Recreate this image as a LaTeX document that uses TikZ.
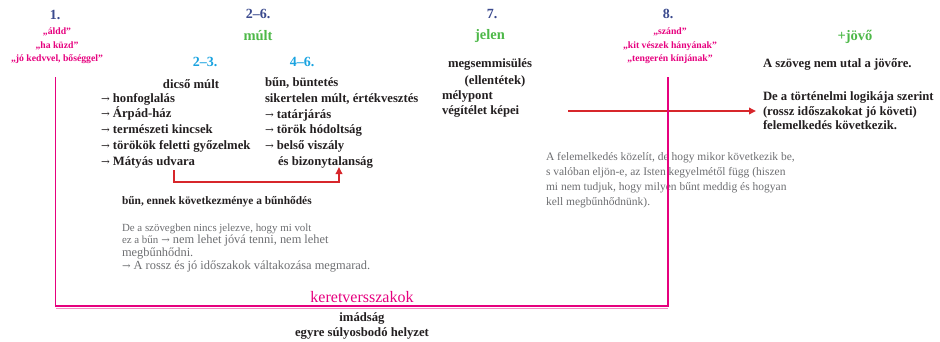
\documentclass[tikz,border=0pt]{standalone}
\usepackage{fontspec}
\setmainfont{Liberation Serif}
\newfontfamily\arrowfont[Scale=0.82]{DejaVu Serif}
\newcommand\arr{{\arrowfont\mdseries →}}
\usetikzlibrary{arrows.meta}
\definecolor{numblue}{HTML}{3B4A8E}
\definecolor{timegreen}{HTML}{4DB848}
\definecolor{subcyan}{HTML}{1AA3E0}
\definecolor{quotepink}{HTML}{E6007E}
\definecolor{arrowred}{HTML}{D7262B}
\definecolor{bodyblack}{HTML}{231F20}
\definecolor{notegray}{HTML}{6D6E71}
\begin{document}
\begin{tikzpicture}[x=1pt,y=-1pt,
  every node/.style={inner sep=0pt, outer sep=0pt},
  num/.style={font=\fontsize{14}{14}\selectfont\bfseries, text=numblue},
  period/.style={font=\fontsize{14.5}{14.5}\selectfont\bfseries, text=timegreen},
  sub/.style={font=\fontsize{14}{14}\selectfont\bfseries, text=subcyan},
  quote/.style={font=\fontsize{9.7}{13.5}\selectfont\bfseries, text=quotepink, align=center},
  body/.style={font=\fontsize{12.7}{15.7}\selectfont\bfseries, text=bodyblack, align=left, anchor=west},
  small/.style={font=\fontsize{11.4}{12}\selectfont\bfseries, text=bodyblack, anchor=west},
  note/.style={font=\fontsize{11.5}{15.2}\selectfont, text=notegray, align=left, anchor=west},
  notebig/.style={font=\fontsize{12.4}{12.5}\selectfont, text=notegray, anchor=base west},
  notesmall/.style={font=\fontsize{10.9}{12.5}\selectfont, text=notegray, anchor=base west},
  redarrow/.style={draw=arrowred, line width=1.8pt, -{Triangle[length=7pt,width=6.5pt]}},
  frame/.style={draw=quotepink, line width=1.3pt}
]
\useasboundingbox (0,0) rectangle (940,341);

% numbers
\node[num] (n1) at (55,15) {1.};
\node[num] (n26) at (258,14) {2–6.};
\node[num] (n7) at (492,14) {7.};
\node[num] (n8) at (668,14) {8.};

% periods
\node[period] (mult) at (258,36) {múlt};
\node[period] (jelen) at (490,36) {jelen};
\node[period] (jovo) at (855,37) {+jövő};

% quotes
\node[quote] (q1) at (57,46) {„áldd”\\„ha küzd”\\„jó kedvvel, bőséggel”};
\node[quote] (q8) at (670,46) {„szánd”\\„kit vészek hányának”\\„tengerén kínjának”};

% sub numbers
\node[sub] (n23) at (205,62) {2–3.};
\node[sub] (n46) at (302,62) {4–6.};

% left column
\node[body, anchor=center] (dicso) at (191,84) {dicső múlt};
\node[body] (leftlist) at (101,130.5) {\arr\ honfoglalás\\\arr\ Árpád-ház\\\arr\ természeti kincsek\\\arr\ törökök feletti győzelmek\\\arr\ Mátyás udvara};
\node[body] (rightlist) at (265,123) {bűn, büntetés\\sikertelen múlt, értékvesztés\\\arr\ tatárjárás\\\arr\ török hódoltság\\\arr\ belső viszály\\\hspace*{13pt}és bizonytalanság};

% column 7
\node[body, anchor=center] (megs) at (490,64) {megsemmisülés};
\node[body, anchor=center] (ellent) at (495,81) {(ellentétek)};
\node[body] (melyp) at (442,96) {mélypont};
\node[body] (vegit) at (442,111.5) {végítélet képei};

% future column
\node[body] (nemutal) at (763,64) {A szöveg nem utal a jövőre.};
\node[body, font=\fontsize{12.7}{14.5}\selectfont\bfseries] (logika) at (763,111) {De a történelmi logikája szerint\\(rossz időszakokat jó követi)\\felemelkedés következik.};

% gray note right
\node[note] (noteR) at (546,180) {A felemelkedés közelít, de hogy mikor következik be,\\s valóban eljön-e, az Isten kegyelmétől függ (hiszen\\mi nem tudjuk, hogy milyen bűnt meddig és hogyan\\kell megbűnhődnünk).};

% bottom left notes
\node[small] (bun) at (122,202) {bűn, ennek következménye a bűnhődés};
\node[notesmall] (noteL1) at (122,231) {De a szövegben nincs jelezve, hogy mi volt};
\node[notesmall] (noteL2a) at (122,243.5) {ez a bűn};
\node[notebig] (noteL2b) at ([xshift=3pt]noteL2a.base east) {\arr\ nem lehet jóvá tenni, nem lehet};
\node[notebig] (noteL3) at (122,256) {megbűnhődni.};
\node[notebig] (noteL4) at (122,269) {\arr\ A rossz és jó időszakok váltakozása megmarad.};

% frame texts
\node[font=\fontsize{16}{16}\selectfont, text=quotepink] (keret) at (362,297) {keretversszakok};
\node[body, anchor=center] (imadsag) at (362,318) {imádság};
\node[body, anchor=center] (egyre) at (362,333) {egyre súlyosbodó helyzet};

% red arrows
\coordinate (uA) at (174,170);
\coordinate (uB) at (339,167);
\draw[redarrow] (uA) -- (174,182) -- (339,182) -- (uB);
\coordinate (hA) at (568,111);
\draw[redarrow] (hA) -- ([xshift=-7pt]logika.west |- hA);

% pink frame
\coordinate (fL) at (55.7,77);
\coordinate (fR) at (668,77);
\draw[frame, quotepink!45, line width=1pt] (56,308) -- (668,308);
\draw[frame] (fL) -- (55.7,306) -- (668,306) -- (fR);
\end{tikzpicture}
\end{document}
